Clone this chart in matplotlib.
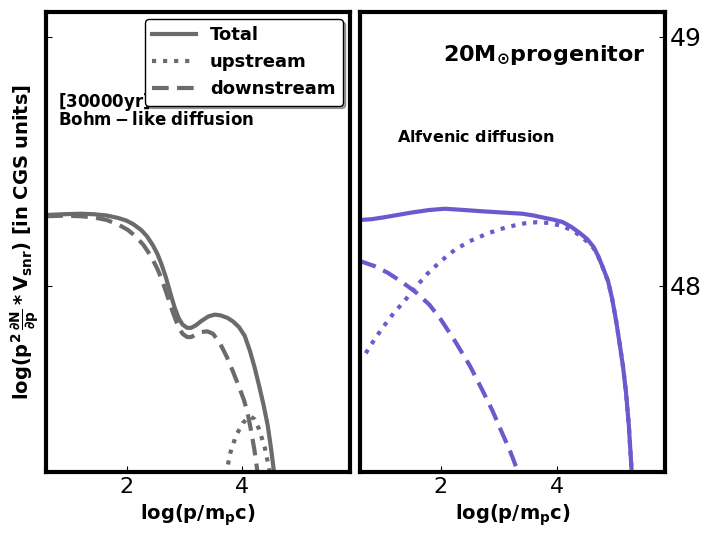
import matplotlib
matplotlib.use('Agg')
import matplotlib.pyplot as plt

# Bohm-like diffusion (left panel)
bohm_tot_x = [0.6, 0.9, 1.2, 1.43, 1.65, 1.85, 2.0, 2.12, 2.25, 2.35, 2.45, 2.53, 2.6, 2.68, 2.76, 2.83, 2.9, 2.97, 3.05, 3.12, 3.2, 3.3, 3.42, 3.53, 3.63, 3.75, 3.85, 3.95, 4.05, 4.14, 4.22, 4.3, 4.38, 4.45, 4.5, 4.55, 4.6]
bohm_tot_y = [48.285, 48.288, 48.29, 48.288, 48.283, 48.273, 48.262, 48.247, 48.225, 48.2, 48.165, 48.13, 48.09, 48.035, 47.97, 47.915, 47.872, 47.845, 47.832, 47.832, 47.842, 47.86, 47.878, 47.885, 47.882, 47.872, 47.857, 47.835, 47.80, 47.74, 47.675, 47.60, 47.52, 47.44, 47.36, 47.27, 47.18]
bohm_down_x = [0.6, 0.9, 1.2, 1.43, 1.65, 1.85, 2.02, 2.15, 2.29, 2.42, 2.53, 2.62, 2.7, 2.8, 2.9, 2.97, 3.05, 3.12, 3.2, 3.3, 3.4, 3.5, 3.62, 3.74, 3.84, 3.96, 4.04, 4.1, 4.16, 4.22, 4.28]
bohm_down_y = [48.28, 48.282, 48.28, 48.275, 48.265, 48.247, 48.225, 48.2, 48.165, 48.12, 48.07, 48.02, 47.965, 47.895, 47.835, 47.808, 47.795, 47.795, 47.805, 47.815, 47.818, 47.808, 47.77, 47.715, 47.66, 47.59, 47.54, 47.49, 47.42, 47.34, 47.24]
bohm_up_x = [3.72, 3.8, 3.9, 4.02, 4.1, 4.16, 4.22, 4.3, 4.4, 4.48, 4.54]
bohm_up_y = [47.24, 47.33, 47.40, 47.45, 47.47, 47.475, 47.465, 47.425, 47.35, 47.26, 47.18]

# Alfvenic diffusion (right panel)
alf_tot_x = [0.6, 0.8, 1.0, 1.25, 1.5, 1.8, 2.07, 2.4, 2.7, 3.05, 3.41, 3.6, 3.8, 3.95, 4.1, 4.25, 4.4, 4.53, 4.64, 4.72, 4.8, 4.89, 4.96, 5.03, 5.09, 5.15, 5.2, 5.25, 5.3, 5.34]
alf_tot_y = [48.265, 48.268, 48.275, 48.285, 48.295, 48.305, 48.31, 48.305, 48.30, 48.295, 48.29, 48.283, 48.273, 48.266, 48.257, 48.238, 48.213, 48.188, 48.157, 48.12, 48.075, 48.02, 47.95, 47.86, 47.77, 47.675, 47.575, 47.44, 47.25, 47.1]
alf_up_x = [0.7, 0.85, 1.0, 1.18, 1.37, 1.57, 1.77, 2.0, 2.24, 2.5, 2.82, 3.15, 3.46, 3.66, 3.86, 4.08, 4.28, 4.45, 4.56, 4.64, 4.72, 4.8, 4.89, 4.96, 5.03, 5.09, 5.15, 5.2, 5.25, 5.3, 5.34]
alf_up_y = [47.73, 47.785, 47.835, 47.89, 47.94, 47.997, 48.05, 48.1, 48.145, 48.18, 48.212, 48.237, 48.252, 48.256, 48.253, 48.242, 48.222, 48.195, 48.17, 48.152, 48.118, 48.073, 48.02, 47.95, 47.86, 47.77, 47.675, 47.575, 47.44, 47.25, 47.1]
alf_down_x = [0.6, 0.85, 1.08, 1.3, 1.55, 1.8, 2.0, 2.24, 2.5, 2.71, 2.9, 3.03, 3.2, 3.34]
alf_down_y = [48.10, 48.08, 48.053, 48.02, 47.978, 47.925, 47.865, 47.78, 47.68, 47.585, 47.495, 47.425, 47.335, 47.25]

gray = '#6b6b6b'
blue = '#6a5acd'
xlim = (0.6, 5.88)
ylim = (47.253, 49.1)

fig = plt.figure(figsize=(7.1, 5.42), dpi=100)
ax1 = fig.add_axes([0.065, 0.129, 0.428, 0.849])
ax2 = fig.add_axes([0.507, 0.129, 0.430, 0.849])

ax1.plot(bohm_tot_x, bohm_tot_y, color=gray, lw=3, ls='-', label='Total')
ax1.plot(bohm_up_x, bohm_up_y, color=gray, lw=3, ls=':', label='upstream')
ax1.plot(bohm_down_x, bohm_down_y, color=gray, lw=3, ls='--', dashes=(4, 2), label='downstream')

ax2.plot(alf_tot_x, alf_tot_y, color=blue, lw=3, ls='-')
ax2.plot(alf_up_x, alf_up_y, color=blue, lw=3, ls=':')
ax2.plot(alf_down_x, alf_down_y, color=blue, lw=3, ls='--', dashes=(4, 2))

for ax in (ax1, ax2):
    ax.set_xlim(*xlim)
    ax.set_ylim(*ylim)
    ax.set_xticks([2, 4])
    ax.set_yticks([48, 49])
    for s in ax.spines.values():
        s.set_linewidth(3)
    ax.tick_params(direction='in', labelsize=16, length=4)
    ax.set_xlabel(r'$\bf{log(p/m_pc)}$', fontsize=14)

ax1.tick_params(axis='y', labelleft=False)
ax2.yaxis.tick_right()
ax2.tick_params(axis='y', labelsize=18, direction='in', length=4)

ax1.set_ylabel(r'$\bf{log(p^2\,\frac{\partial N}{\partial p}*V_{snr})\ [in\ CGS\ units]}$', fontsize=14)

leg = ax1.legend(loc='upper right', fontsize=13, shadow=True, handlelength=2.4,
                 prop={'weight': 'bold', 'size': 13}, borderaxespad=0.4)
leg.get_frame().set_edgecolor('black')

ax1.text(0.04, 0.805, r'$\bf{[30000yr]}$', transform=ax1.transAxes, fontsize=12, va='center')
ax1.text(0.04, 0.765, r'$\bf{Bohm-like\ diffusion}$', transform=ax1.transAxes, fontsize=12, va='center')

ax2.text(0.605, 0.906, r'$\bf{20M_{\odot}progenitor}$', transform=ax2.transAxes, fontsize=16, ha='center', va='center')
ax2.text(0.38, 0.728, r'$\bf{Alfvenic\ diffusion}$', transform=ax2.transAxes, fontsize=11.5, ha='center', va='center')

plt.savefig('out.png', dpi=100)
